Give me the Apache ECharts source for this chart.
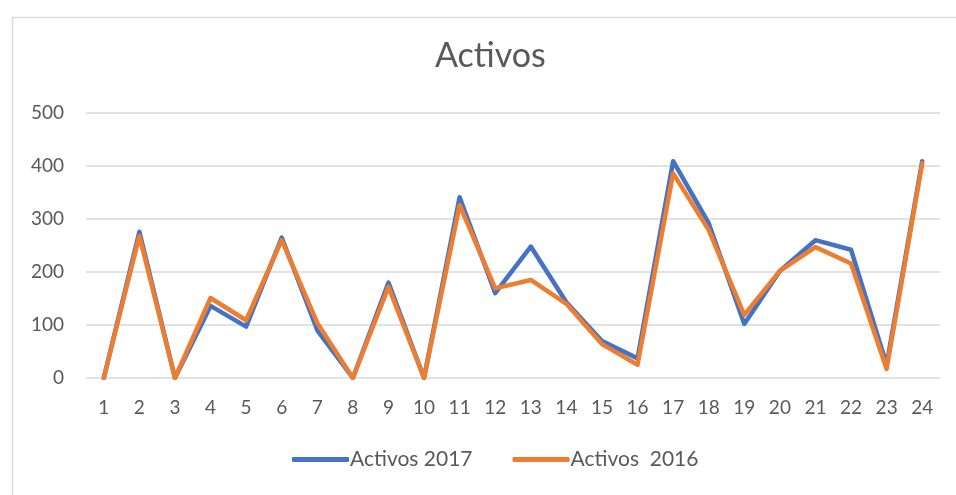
<!DOCTYPE html>
<html>
<head>
<meta charset="utf-8">
<script src="https://cdn.jsdelivr.net/npm/echarts@6/dist/echarts.min.js"></script>
<style>
html,body{margin:0;padding:0;background:#fff;}
#chart{width:956px;height:495px;}
</style>
</head>
<body>
<div id="chart"></div>
<script>
const categories = ['1','2','3','4','5','6','7','8','9','10','11','12','13','14','15','16','17','18','19','20','21','22','23','24'];
const activos2017 = [0, 276, 0, 136, 97, 265, 90, 0, 180, 0, 341, 160, 248, 143, 70, 37, 409, 292, 102, 202, 260, 242, 25, 409];
const activos2016 = [0, 268, 0, 151, 109, 260, 104, 0, 172, 0, 326, 169, 185, 140, 64, 25, 386, 279, 119, 202, 247, 216, 17, 405];
const seriesNames = ['Activos 2017', 'Activos  2016'];
const yTicks = { min: 0, max: 500, interval: 100 };

const font = 'Lato, "Open Sans", sans-serif';
const chart = echarts.init(document.getElementById('chart'));
chart.setOption({
  animation: false,
  backgroundColor: '#fff',
  graphic: [{
    type: 'rect', left: 10, top: 15,
    shape: { width: 960, height: 500 },
    style: { fill: 'none', stroke: '#d9d9d9', lineWidth: 1.5 },
    silent: true
  }],
  title: {
    text: 'Activos', left: 430, top: 34,
    textStyle: { fontFamily: font, fontSize: 34, fontWeight: 'normal', color: '#595959' }
  },
  legend: {
    bottom: 20, left: 287, itemWidth: 57, itemHeight: 5, itemGap: 40,
    icon: 'roundRect',
    textStyle: { fontFamily: font, fontSize: 21, color: '#595959', padding: [0, 0, 0, -4] },
    data: seriesNames
  },
  grid: { left: 86, right: 16, top: 113, bottom: 117 },
  xAxis: {
    type: 'category', data: categories, boundaryGap: true,
    axisLine: { show: false }, axisTick: { show: false },
    axisLabel: { fontFamily: font, fontSize: 19, color: '#595959', margin: 20 }
  },
  yAxis: {
    type: 'value', min: yTicks.min, max: yTicks.max, interval: yTicks.interval,
    axisLine: { show: false }, axisTick: { show: false },
    axisLabel: { fontFamily: font, fontSize: 19, color: '#595959', margin: 22 },
    splitLine: { lineStyle: { color: '#d9d9d9', width: 1.5 } }
  },
  series: [
    { name: seriesNames[0], type: 'line', data: activos2017, showSymbol: false, symbol: 'none',
      lineStyle: { color: '#4472C4', width: 4.5, cap: 'round', join: 'round' }, itemStyle: { color: '#4472C4' } },
    { name: seriesNames[1], type: 'line', data: activos2016, showSymbol: false, symbol: 'none',
      lineStyle: { color: '#ED7D31', width: 4.5, cap: 'round', join: 'round' }, itemStyle: { color: '#ED7D31' } }
  ]
});
</script>
</body>
</html>
